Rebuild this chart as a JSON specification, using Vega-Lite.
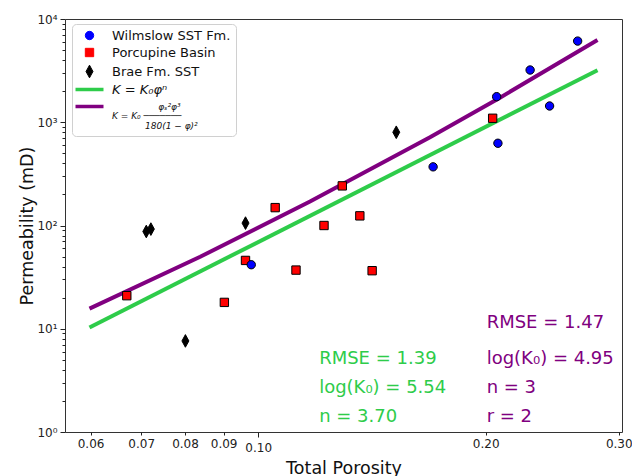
{
  "$schema": "https://vega.github.io/schema/vega-lite/v6.json",
  "width": 557,
  "height": 413,
  "autosize": {"type": "none"},
  "padding": {"left": 65, "top": 19, "right": 10, "bottom": 44},
  "background": "white",
  "config": {
    "font": "DejaVu Sans",
    "view": {"stroke": "#333", "strokeWidth": 1},
    "axis": {
      "domain": false, "grid": false, "tickColor": "#222", "labelColor": "#222",
      "labelFont": "DejaVu Sans", "titleFont": "DejaVu Sans", "titleFontWeight": "normal",
      "titleColor": "#111", "labelFontSize": 12, "titleFontSize": 17.5,
      "labelOverlap": false, "labelFlush": false, "tickWidth": 1
    }
  },
  "datasets": {
    "pts": [
      {"phi": 0.0711, "k": 87.5, "series": "Brae Fm. SST"},
      {"phi": 0.0721, "k": 92.3, "series": "Brae Fm. SST"},
      {"phi": 0.0801, "k": 7.62, "series": "Brae Fm. SST"},
      {"phi": 0.0962, "k": 105.5, "series": "Brae Fm. SST"},
      {"phi": 0.1523, "k": 800, "series": "Brae Fm. SST"},
      {"phi": 0.0670, "k": 20.9, "series": "Porcupine Basin"},
      {"phi": 0.0902, "k": 18.0, "series": "Porcupine Basin"},
      {"phi": 0.0962, "k": 45.9, "series": "Porcupine Basin"},
      {"phi": 0.1053, "k": 149, "series": "Porcupine Basin"},
      {"phi": 0.1122, "k": 37.0, "series": "Porcupine Basin"},
      {"phi": 0.1222, "k": 100, "series": "Porcupine Basin"},
      {"phi": 0.1292, "k": 242, "series": "Porcupine Basin"},
      {"phi": 0.1363, "k": 124, "series": "Porcupine Basin"},
      {"phi": 0.1415, "k": 36.5, "series": "Porcupine Basin"},
      {"phi": 0.2043, "k": 1093, "series": "Porcupine Basin"},
      {"phi": 0.0979, "k": 41.7, "series": "Wilmslow SST Fm."},
      {"phi": 0.1704, "k": 370, "series": "Wilmslow SST Fm."},
      {"phi": 0.2068, "k": 1769, "series": "Wilmslow SST Fm."},
      {"phi": 0.2076, "k": 626, "series": "Wilmslow SST Fm."},
      {"phi": 0.229, "k": 3206, "series": "Wilmslow SST Fm."},
      {"phi": 0.243, "k": 1437, "series": "Wilmslow SST Fm."},
      {"phi": 0.2647, "k": 6113, "series": "Wilmslow SST Fm."}
    ],
    "fits": [
      {"phi": 0.0598, "k": 10.3, "series": "K = K₀φⁿ"},
      {"phi": 0.2812, "k": 3184, "series": "K = K₀φⁿ"},
      {"phi": 0.0598, "k": 15.65, "series": "K = K₀ φₛ²φ³/180(1−φ)²"},
      {"phi": 0.0838, "k": 49.8, "series": "K = K₀ φₛ²φ³/180(1−φ)²"},
      {"phi": 0.1171, "k": 170.7, "series": "K = K₀ φₛ²φ³/180(1−φ)²"},
      {"phi": 0.1688, "k": 716, "series": "K = K₀ φₛ²φ³/180(1−φ)²"},
      {"phi": 0.2089, "k": 1730, "series": "K = K₀ φₛ²φ³/180(1−φ)²"},
      {"phi": 0.2812, "k": 6252, "series": "K = K₀ φₛ²φ³/180(1−φ)²"}
    ],
    "notes": [
      {"phi": 0.1204, "k": 5.14, "label": "RMSE = 1.39", "group": "power"},
      {"phi": 0.1204, "k": 2.69, "label": "log(K₀) = 5.54", "group": "power"},
      {"phi": 0.1204, "k": 1.41, "label": "n = 3.70", "group": "power"},
      {"phi": 0.2006, "k": 11.3, "label": "RMSE = 1.47", "group": "kc"},
      {"phi": 0.2006, "k": 5.14, "label": "log(K₀) = 4.95", "group": "kc"},
      {"phi": 0.2006, "k": 2.66, "label": "n = 3", "group": "kc"},
      {"phi": 0.2006, "k": 1.41, "label": "r = 2", "group": "kc"}
    ]
  },
  "encoding": {
    "x": {
      "field": "phi", "type": "quantitative",
      "scale": {"type": "log", "domain": [0.0555, 0.303], "nice": false},
      "axis": {
        "title": "Total Porosity",
        "values": [0.06, 0.07, 0.08, 0.09, 0.1, 0.2, 0.3],
        "format": ".2f",
        "tickSize": {"condition": {"test": "datum.value == 0.1", "value": 5}, "value": 3},
        "labelPadding": {"condition": {"test": "datum.value == 0.1", "value": 5}, "value": 3},
        "titlePadding": 6
      }
    },
    "y": {
      "field": "k", "type": "quantitative",
      "scale": {"type": "log", "domain": [1, 10000], "nice": false},
      "axis": {
        "title": "Permeability (mD)",
        "values": [1,2,3,4,5,6,7,8,9,10,20,30,40,50,60,70,80,90,100,200,300,400,500,600,700,800,900,1000,2000,3000,4000,5000,6000,7000,8000,9000,10000],
        "labelExpr": "datum.value == 1 ? '10⁰' : datum.value == 10 ? '10¹' : datum.value == 100 ? '10²' : datum.value == 1000 ? '10³' : datum.value == 10000 ? '10⁴' : ''",
        "tickSize": {"condition": {"test": "indexof([1,10,100,1000,10000], datum.value) >= 0", "value": 5}, "value": 3},
        "labelPadding": 3,
        "titlePadding": 0
      }
    }
  },
  "layer": [
    {
      "data": {"name": "fits"},
      "mark": {"type": "line", "strokeWidth": 4, "clip": true},
      "encoding": {
        "color": {
          "field": "series", "type": "nominal",
          "scale": {
            "domain": ["Wilmslow SST Fm.", "Porcupine Basin", "Brae Fm. SST", "K = K₀φⁿ", "K = K₀ φₛ²φ³/180(1−φ)²"],
            "range": ["blue", "red", "black", "#2ecc4a", "purple"]
          },
          "legend": {
            "title": null,
            "orient": "none", "legendX": 7, "legendY": 5,
            "padding": 5, "strokeColor": "#d0d0d0", "fillColor": "rgba(255,255,255,0.85)", "cornerRadius": 4,
            "symbolSize": 784, "labelFontSize": 13, "labelFont": "DejaVu Sans", "labelColor": "#111",
            "rowPadding": 3, "labelOffset": 16, "symbolOffset": 6,
            "labelExpr": "datum.value == 'K = K₀ φₛ²φ³/180(1−φ)²' ? ['⠀⠀⠀⠀⠀⠀⠀φₛ²φ³', 'K = K₀ ───────', '⠀⠀⠀⠀⠀180(1 − φ)²'] : datum.label",
            "encode": {
              "symbols": {"update": {
                "size": {"signal": "datum.value == 'Brae Fm. SST' ? 160 : indexof(['Wilmslow SST Fm.', 'Porcupine Basin'], datum.value) >= 0 ? 70 : 784"},
                "fill": {"signal": "scale('color', datum.value)"},
                "stroke": {"value": "black"},
                "strokeWidth": {"signal": "indexof(['Wilmslow SST Fm.', 'Porcupine Basin', 'Brae Fm. SST'], datum.value) >= 0 ? 1 : 0"},
                "opacity": {"value": 1},
                "fillOpacity": {"value": 1}
              }},
              "labels": {"update": {
                "fontStyle": {"signal": "indexof(datum.value, 'K =') == 0 ? 'italic' : 'normal'"},
                "fontSize": {"signal": "datum.value == 'K = K₀ φₛ²φ³/180(1−φ)²' ? 9 : 13"},
                "lineHeight": {"value": 9.5}
              }}
            }
          }
        },
        "detail": {"field": "series"},
        "order": {"field": "phi", "type": "quantitative"}
      }
    },
    {
      "data": {"name": "pts"},
      "mark": {"type": "point", "filled": true, "opacity": 1, "stroke": "black", "strokeWidth": 1},
      "encoding": {
        "color": {"field": "series", "type": "nominal"},
        "shape": {
          "field": "series", "type": "nominal",
          "scale": {
            "domain": ["Wilmslow SST Fm.", "Porcupine Basin", "Brae Fm. SST", "K = K₀φⁿ", "K = K₀ φₛ²φ³/180(1−φ)²"],
            "range": ["circle", "square", "M0,-1L0.55,0L0,1L-0.55,0Z", "M-1,-0.125L1,-0.125L1,0.125L-1,0.125Z", "M-1,-0.125L1,-0.125L1,0.125L-1,0.125Z"]
          }
        },
        "size": {"condition": {"test": "datum.series == 'Brae Fm. SST'", "value": 160}, "value": 70}
      }
    },
    {
      "data": {"name": "notes"},
      "transform": [{"filter": "datum.group == 'power'"}],
      "mark": {"type": "text", "align": "left", "baseline": "middle", "fontSize": 18, "color": "#2ecc4a", "font": "DejaVu Sans"},
      "encoding": {"text": {"field": "label"}}
    },
    {
      "data": {"name": "notes"},
      "transform": [{"filter": "datum.group == 'kc'"}],
      "mark": {"type": "text", "align": "left", "baseline": "middle", "fontSize": 18, "color": "purple", "font": "DejaVu Sans"},
      "encoding": {"text": {"field": "label"}}
    }
  ]
}
